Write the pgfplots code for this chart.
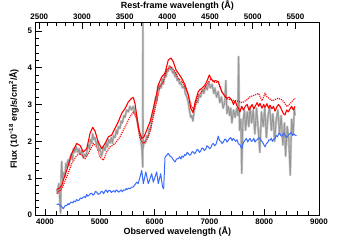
\documentclass[border=0pt]{standalone}
\usepackage{fontspec}
\setmainfont{Liberation Sans}
\usepackage{pgfplots}
\usepackage{pgfplotstable}
\pgfplotsset{compat=1.18}
\definecolor{specgray}{RGB}{150,150,150}
\definecolor{specgraylight}{RGB}{195,195,195}
\definecolor{specred}{RGB}{255,0,0}
\definecolor{specblue}{RGB}{55,105,255}

\pgfplotstableread{
x y
4213 0.70
4230 0.60
4250 0.85
4270 0.40
4285 0.05
4292 1.00
4305 1.45
4320 0.95
4340 1.15
4365 1.05
4380 1.40
4396 1.30
4420 1.50
4440 1.35
4456 1.55
4480 1.65
4500 1.50
4520 1.80
4547 1.70
4570 1.85
4600 1.70
4620 1.80
4640 1.65
4670 1.75
4699 1.55
4720 1.65
4745 1.60
4770 1.75
4790 1.90
4810 1.80
4830 2.05
4852 1.95
4870 2.20
4890 2.05
4912 2.10
4940 1.90
4960 2.00
4985 1.75
5003 1.80
5030 1.60
5050 1.70
5070 1.85
5095 1.75
5120 1.95
5140 1.85
5160 2.05
5186 1.95
5210 2.10
5230 1.95
5250 2.15
5277 2.10
5300 2.30
5320 2.20
5340 2.40
5368 2.35
5390 2.55
5410 2.50
5440 2.70
5460 2.65
5490 2.85
5520 2.80
5550 2.95
5580 2.85
5611 2.95
5640 2.80
5670 2.65
5700 2.40
5720 2.25
5745 2.05
5765 1.85
5775 1.60
5783 1.30
5786 5.30
5790 1.80
5806 2.00
5830 1.95
5856 2.15
5880 2.10
5900 2.35
5920 2.30
5950 2.60
5976 2.75
6000 2.95
6020 3.20
6040 3.10
6060 3.50
6080 3.40
6100 3.55
6120 3.45
6140 3.70
6160 3.55
6190 3.85
6210 3.75
6230 3.95
6250 3.90
6270 4.05
6290 3.95
6310 4.00
6330 3.85
6350 3.90
6372 3.75
6390 3.85
6410 3.65
6432 3.70
6460 3.55
6480 3.60
6510 3.45
6540 3.50
6560 3.30
6590 3.20
6615 3.05
6640 2.80
6660 2.65
6677 2.70
6700 2.55
6720 2.80
6737 2.95
6760 3.10
6790 3.05
6810 3.25
6840 3.20
6870 3.40
6900 3.30
6930 3.50
6960 3.40
6990 3.60
7020 3.45
7050 3.55
7080 3.30
7100 3.45
7130 3.20
7160 3.35
7190 3.05
7220 3.20
7250 2.90
7280 3.05
7300 3.65
7320 2.75
7345 2.95
7370 2.70
7390 2.90
7410 2.50
7440 2.85
7470 2.65
7500 2.90
7520 2.70
7532 4.30
7550 2.30
7575 2.60
7590 1.13
7610 2.50
7640 2.85
7660 2.30
7690 2.80
7720 2.40
7741 2.95
7770 2.50
7800 2.85
7830 2.20
7860 2.90
7890 2.35
7920 1.70
7950 2.80
7980 2.40
8010 2.90
8040 2.10
8070 2.70
8100 2.95
8130 2.30
8160 2.75
8190 2.00
8220 2.60
8250 2.85
8280 2.20
8310 2.70
8340 1.90
8370 2.50
8390 1.60
8420 2.40
8450 2.05
8475 1.08
8500 2.60
8530 2.20
8550 2.90
8562 2.70
}\grayspec

\pgfplotstableread{
x y
4213 0.70
4260 0.72
4306 0.80
4335 0.95
4396 1.21
4487 1.67
4578 1.94
4638 1.89
4699 1.71
4761 1.80
4821 2.21
4870 2.38
4912 2.28
4972 1.98
5035 1.80
5095 1.94
5155 2.12
5217 2.17
5277 2.35
5337 2.53
5400 2.76
5460 2.89
5520 3.07
5582 3.17
5611 3.19
5642 3.03
5673 2.71
5715 2.30
5765 2.08
5806 2.12
5856 2.30
5916 2.53
5976 2.89
6038 3.30
6067 3.53
6130 3.75
6190 3.85
6250 4.21
6299 4.26
6341 4.16
6390 3.94
6432 3.85
6495 3.71
6555 3.53
6615 3.26
6660 2.90
6700 2.78
6737 3.05
6797 3.35
6828 3.40
6870 3.45
6920 3.53
6960 3.65
6998 3.80
7030 3.70
7071 3.62
7110 3.65
7162 3.62
7190 3.50
7225 3.35
7270 3.25
7316 3.17
7360 3.20
7407 3.12
7440 3.00
7470 3.10
7498 2.98
7530 2.90
7558 2.80
7590 2.95
7620 2.85
7650 2.94
7690 3.00
7720 2.85
7741 2.90
7780 3.00
7810 2.88
7832 2.94
7870 3.05
7900 2.95
7923 3.03
7960 2.90
7990 3.00
8015 2.92
8050 3.02
8080 2.90
8106 2.98
8140 2.88
8170 2.95
8197 2.82
8230 2.93
8260 3.00
8288 2.95
8320 2.85
8350 2.75
8380 2.72
8410 2.85
8440 2.80
8471 2.88
8500 2.95
8530 2.85
8562 2.95
}\redsolid

\pgfplotstableread{
x y
4213 0.58
4306 0.71
4396 1.03
4487 1.39
4578 1.62
4638 1.67
4730 1.53
4790 1.67
4881 1.94
4943 1.85
5003 1.57
5064 1.49
5126 1.71
5186 1.85
5277 1.94
5368 2.12
5460 2.39
5551 2.66
5611 2.80
5673 2.62
5733 2.08
5794 1.94
5856 2.03
5916 2.26
5976 2.66
6038 3.07
6098 3.48
6159 3.62
6221 3.94
6299 4.03
6372 3.89
6432 3.71
6524 3.58
6615 3.26
6677 2.94
6720 2.85
6797 3.25
6889 3.40
6980 3.60
7030 3.70
7100 3.60
7162 3.60
7225 3.35
7316 3.15
7407 3.12
7500 3.10
7600 3.05
7680 3.12
7741 3.21
7832 3.26
7900 3.30
7960 3.10
8015 3.30
8050 3.21
8150 3.10
8250 3.17
8330 3.12
8420 2.94
8500 3.07
8562 3.17
}\reddot

\pgfplotstableread{
x y
4213 0.28
4245 0.30
4273 0.26
4300 0.24
4334 0.17
4365 0.25
4396 0.26
4420 0.31
4440 0.28
4465 0.34
4487 0.35
4510 0.33
4530 0.38
4555 0.36
4578 0.42
4600 0.39
4620 0.40
4645 0.46
4670 0.44
4695 0.48
4720 0.50
4740 0.47
4761 0.56
4780 0.51
4800 0.53
4825 0.58
4852 0.59
4875 0.54
4900 0.57
4920 0.64
4943 0.62
4970 0.56
5003 0.58
5025 0.64
5050 0.63
5070 0.58
5095 0.65
5115 0.68
5140 0.61
5160 0.66
5186 0.67
5210 0.61
5230 0.64
5255 0.66
5277 0.62
5300 0.68
5320 0.66
5345 0.62
5368 0.65
5390 0.68
5410 0.63
5435 0.68
5460 0.67
5480 0.72
5500 0.69
5525 0.73
5551 0.71
5580 0.76
5611 0.76
5640 0.82
5673 0.89
5700 0.85
5733 1.03
5765 1.21
5794 0.85
5840 1.17
5885 0.85
5947 1.12
5976 0.89
6038 1.17
6067 0.85
6110 1.12
6145 0.76
6165 0.71
6190 1.57
6220 1.62
6250 1.67
6280 1.60
6312 1.57
6340 1.50
6372 1.44
6400 1.52
6432 1.53
6455 1.58
6480 1.52
6500 1.60
6524 1.57
6550 1.64
6570 1.62
6595 1.70
6615 1.67
6640 1.62
6660 1.64
6685 1.72
6706 1.71
6730 1.66
6750 1.70
6775 1.78
6797 1.76
6820 1.70
6840 1.74
6865 1.82
6889 1.80
6910 1.75
6930 1.78
6955 1.88
6980 1.85
7005 1.80
7030 1.84
7050 1.92
7071 1.94
7095 1.88
7120 1.92
7140 2.02
7162 2.14
7185 2.02
7210 2.00
7230 1.94
7254 1.98
7280 2.06
7300 2.05
7320 1.98
7345 2.03
7370 2.08
7390 2.10
7415 2.02
7436 2.08
7460 2.04
7480 2.00
7505 2.04
7527 1.94
7560 1.90
7590 1.80
7620 1.96
7650 2.03
7675 2.08
7700 1.98
7720 2.04
7741 2.08
7765 2.00
7790 2.02
7810 2.08
7832 1.98
7855 2.03
7880 2.05
7900 2.10
7923 2.08
7945 2.02
7970 1.98
7990 1.92
8015 1.85
8040 1.94
8060 1.96
8085 2.04
8106 2.03
8130 2.08
8150 2.00
8175 2.06
8197 2.08
8220 2.16
8240 2.12
8265 2.22
8288 2.21
8310 2.14
8330 2.15
8355 2.22
8380 2.17
8400 2.10
8420 2.12
8445 2.18
8471 2.21
8495 2.24
8520 2.16
8540 2.20
8562 2.17
8590 2.15
}\bluespec

\begin{document}
\begin{tikzpicture}
\begin{axis}[
  name=main,
  scale only axis,
  width=283.3bp, height=192.3bp,
  xmin=3830, xmax=9000, ymin=0, ymax=5.22,
  xtick={4000,5000,...,9000}, minor x tick num=4,
  ytick={0,1,2,3,4,5}, minor y tick num=4,
  tick align=inside,
  xtick pos=bottom, ytick pos=left,
  major tick length=6bp, minor tick length=3.5bp,
  tick style={black, line width=0.6pt},
  axis line style={black, line width=0.8pt},
  /pgf/number format/assume math mode=true,
  /pgf/number format/1000 sep={},
  tick label style={font=\fontsize{8}{9}\selectfont\bfseries},
  label style={font=\fontsize{9}{10}\selectfont\bfseries},
  xlabel={Observed wavelength (Å)},
  ylabel={Flux (10\textsuperscript{−18} erg/s/cm\textsuperscript{2}/Å)},
  xlabel style={at={(axis description cs:0.5,-0.087)}, anchor=center},
  ylabel style={at={(axis description cs:-0.077,0.5)}, anchor=center},
]
\addplot[specgraylight, line width=2.2pt, line join=round] table[x=x,y=y] {\grayspec};
\addplot[specgray, line width=0.9pt, line join=round] table[x=x,y=y] {\grayspec};
\addplot[specred, line width=1.1pt, densely dotted] table[x=x,y=y] {\reddot};
\addplot[specred, line width=1.1pt, line join=round] table[x=x,y=y] {\redsolid};
\addplot[specblue, line width=1pt, line join=round] table[x=x,y=y] {\bluespec};
\end{axis}
\begin{axis}[
  scale only axis,
  width=283.3bp, height=192.3bp,
  xmin=2458.3, xmax=5776.6, ymin=0, ymax=1,
  axis x line*=top, hide y axis,
  xtick={2500,3000,...,5500}, minor x tick num=4,
  tick align=inside,
  major tick length=6bp, minor tick length=3.5bp,
  tick style={black, line width=0.6pt},
  axis line style={black, line width=0.8pt},
  /pgf/number format/assume math mode=true,
  /pgf/number format/1000 sep={},
  tick label style={font=\fontsize{8}{9}\selectfont\bfseries},
  label style={font=\fontsize{9}{10}\selectfont\bfseries},
  xlabel={Rest-frame wavelength (Å)},
  xlabel style={at={(axis description cs:0.5,1.087)}, anchor=center},
]
\end{axis}
\pgfresetboundingbox
\path[use as bounding box] ([shift={(-35.7bp,-25bp)}]main.south west) rectangle ([shift={(36bp,22.7bp)}]main.north east);
\end{tikzpicture}
\end{document}
